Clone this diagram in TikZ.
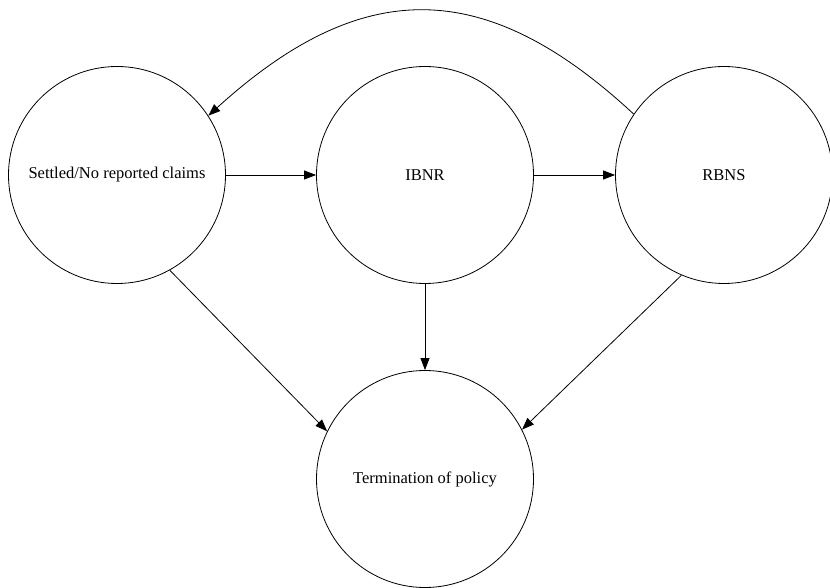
\documentclass[tikz,border=0pt]{standalone}
\usepackage{fontspec}
\setmainfont{Liberation Serif}
\usetikzlibrary{arrows.meta}
\begin{document}
\begin{tikzpicture}[x=1pt,y=1pt,
  state/.style={draw,circle,line width=0.8pt,minimum size=217pt,inner sep=0pt,font=\fontsize{16.5}{20}\selectfont},
  arr/.style={line width=0.8pt,-{Triangle[length=12pt,width=9pt]}}]
\useasboundingbox (0,0) rectangle (830,587);
\node[state] (s) at (117,412) {Settled/No reported claims};
\node[state] (i) at (425,412) {IBNR};
\node[state] (r) at (724,412) {RBNS};
\node[state] (t) at (425,108) {Termination of policy};
\draw[arr] (s.east) -- (i.west);
\draw[arr] (i.east) -- (r.west);
\draw[arr] (i.south) -- (t.north);
\draw[arr] (s.-61) -- (t.154);
\draw[arr] (r.-113) -- (t.27);
\draw[arr] (r.146) .. controls (485,611) and (362,611) .. (s.33);
\end{tikzpicture}
\end{document}
